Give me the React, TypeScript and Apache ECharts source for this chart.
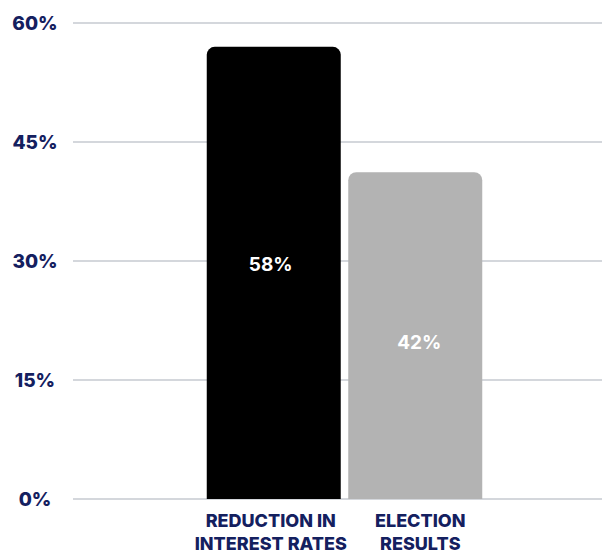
import React, { useEffect, useRef } from "react";
import * as echarts from "echarts";

const categories = ["REDUCTION IN\nINTEREST RATES", "ELECTION\nRESULTS"];
const barValues = [57, 41.2];
const valueLabels = ["58%", "42%"];
const barColors = ["#000000", "#b3b3b3"];
const yTicks = [0, 15, 30, 45, 60];

const NAVY = "#14205f";
const FONT = "Inter";

export default function App() {
  const ref = useRef<HTMLDivElement>(null);
  useEffect(() => {
    document.body.style.margin = "0";
    if (!ref.current) return;
    const chart = echarts.init(ref.current, null, { renderer: "svg" });
    const labelOffsets = [[-3, -8], [4, 7]];
    chart.setOption({
      animation: false,
      grid: [
        { left: 73, right: 5, top: 23, bottom: 55 },
        { left: 203, width: 283, top: 23, bottom: 55 },
      ],
      xAxis: [
        { gridIndex: 0, type: "value", show: false, min: 0, max: 1 },
        {
          gridIndex: 1,
          type: "category",
          data: categories,
          axisLine: { show: false },
          axisTick: { show: false },
          axisLabel: {
            margin: 10,
            interval: 0,
            formatter: (v: string, i: number) => (i === 0 ? `{a|${v}}` : `{b|${v}}`),
            rich: {
              a: {
                color: NAVY,
                fontFamily: FONT,
                fontWeight: 800,
                fontSize: 18,
                lineHeight: 23,
                align: "center",
                padding: [0, 6, 0, 0],
              },
              b: {
                color: NAVY,
                fontFamily: FONT,
                fontWeight: 800,
                fontSize: 18,
                lineHeight: 23,
                align: "center",
                padding: [0, 0, 0, 10],
              },
            },
          },
        },
      ],
      yAxis: [
        {
          gridIndex: 0,
          type: "value",
          min: yTicks[0],
          max: yTicks[yTicks.length - 1],
          interval: 15,
          axisLine: { show: false },
          axisTick: { show: false },
          splitLine: { lineStyle: { color: "#d4d7dc", width: 2 } },
          axisLabel: {
            align: "center",
            margin: 38,
            color: NAVY,
            fontFamily: FONT,
            fontWeight: 800,
            fontSize: 19,
            formatter: (v: number) => `${v}%`,
          },
        },
        { gridIndex: 1, type: "value", min: 0, max: 60, show: false },
      ],
      series: [
        {
          type: "bar",
          xAxisIndex: 1,
          yAxisIndex: 1,
          barWidth: 134,
          data: barValues.map((v, i) => ({
            value: v,
            itemStyle: { color: barColors[i], borderRadius: [8, 8, 0, 0] },
            label: {
              show: true,
              position: "inside",
              offset: labelOffsets[i],
              formatter: valueLabels[i],
              color: "#ffffff",
              fontFamily: FONT,
              fontWeight: 700,
              fontSize: 19,
            },
          })),
        },
      ],
    });
    return () => chart.dispose();
  }, []);
  return <div ref={ref} style={{ width: 607, height: 554 }} />;
}
